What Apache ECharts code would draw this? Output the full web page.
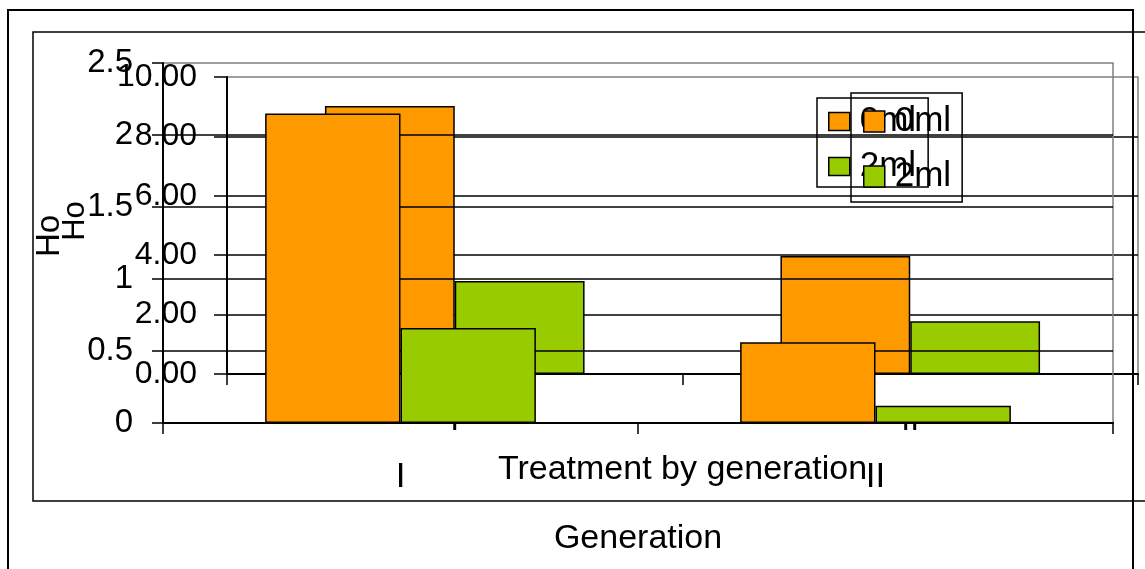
<!DOCTYPE html>
<html>
<head>
<meta charset="utf-8">
<script src="https://cdn.jsdelivr.net/npm/echarts@6/dist/echarts.min.js"></script>
<style>
html,body{margin:0;padding:0;background:#fff;}
#chart{width:1145px;height:569px;}
</style>
</head>
<body>
<div id="chart"></div>
<script>
// ---- data ----
const categories = ['I', 'II'];
const legendNames = ['0ml', '2ml'];
// chart drawn behind: "Treatment by generation" (0.00 - 10.00 scale)
const treat0ml = [9.02, 3.97];
const treat2ml = [3.13, 1.78];
// chart drawn in front: "Generation" (0 - 2.5 scale)
const gen0ml = [2.15, 0.56];
const gen2ml = [0.66, 0.12];

const ORANGE = '#FF9900';
const GREEN = '#99CC00';
const FONT = 'Liberation Sans, Arial, sans-serif';

const chart = echarts.init(document.getElementById('chart'));

function barSeries(name, data, color, gi, z) {
  return {
    type: 'bar', name: name, data: data,
    xAxisIndex: gi, yAxisIndex: gi, z: z,
    barGap: '0%', barCategoryGap: '43%',
    itemStyle: { color: color, borderColor: '#000', borderWidth: 1.5 },
    emphasis: { disabled: true }, animation: false
  };
}

const option = {
  animation: false,
  textStyle: { fontFamily: FONT, color: '#000' },
  graphic: [
    { type: 'rect', z: 0, shape: { x: 8, y: 10, width: 1125, height: 620 },
      style: { fill: 'none', stroke: '#000', lineWidth: 2 } },
    { type: 'rect', z: 0, shape: { x: 33, y: 32, width: 1150, height: 469 },
      style: { fill: 'none', stroke: '#000', lineWidth: 1.5 } }
  ],
  grid: [
    { left: 227, top: 77, right: 7, bottom: 195, show: true, z: 0,
      borderColor: '#808080', borderWidth: 1.5, backgroundColor: 'transparent' },
    { left: 163, top: 63, right: 32, bottom: 146, show: true, z: 3,
      borderColor: '#808080', borderWidth: 1.5, backgroundColor: 'transparent' }
  ],
  xAxis: [
    { type: 'category', gridIndex: 0, data: categories, z: 1,
      axisLine: { lineStyle: { color: '#000', width: 2 } },
      axisTick: { show: true, length: 11, lineStyle: { color: '#000', width: 1.5 } },
      axisLabel: { fontSize: 32, margin: 31, color: '#000', fontFamily: FONT },
      name: 'Treatment by generation', nameLocation: 'middle', nameGap: 79,
      nameTextStyle: { fontSize: 34, color: '#000', fontFamily: FONT } },
    { type: 'category', gridIndex: 1, data: categories, z: 4,
      axisLine: { lineStyle: { color: '#000', width: 2 } },
      axisTick: { show: true, length: 11, lineStyle: { color: '#000', width: 1.5 } },
      axisLabel: { fontSize: 35, margin: 37, color: '#000', fontFamily: FONT },
      name: 'Generation', nameLocation: 'middle', nameGap: 99,
      nameTextStyle: { fontSize: 34, color: '#000', fontFamily: FONT } }
  ],
  yAxis: [
    { type: 'value', gridIndex: 0, min: 0, max: 10, interval: 2, z: 1,
      axisLine: { show: true, lineStyle: { color: '#000', width: 2 } },
      axisTick: { show: true, length: 13, lineStyle: { color: '#000', width: 1.5 } },
      axisLabel: { fontSize: 32, margin: 30, color: '#000', fontFamily: FONT,
        formatter: v => v.toFixed(2) },
      splitLine: { show: true, showMinLine: false, showMaxLine: false,
        lineStyle: { color: '#000', width: 1.5 } },
      name: 'Ho', nameLocation: 'middle', nameGap: 136,
      nameTextStyle: { fontSize: 31, color: '#000', fontFamily: FONT, padding: [0, 0, 0, 9] } },
    { type: 'value', gridIndex: 1, min: 0, max: 2.5, interval: 0.5, z: 4,
      axisLine: { show: true, lineStyle: { color: '#000', width: 2 } },
      axisTick: { show: true, length: 11, lineStyle: { color: '#000', width: 1.5 } },
      axisLabel: { fontSize: 33, margin: 30, color: '#000', fontFamily: FONT },
      splitLine: { show: true, showMinLine: false, showMaxLine: false,
        lineStyle: { color: '#000', width: 1.5 } },
      name: 'Ho', nameLocation: 'middle', nameGap: 97,
      nameTextStyle: { fontSize: 33, color: '#000', fontFamily: FONT, padding: [0, 0, 0, 14] } }
  ],
  legend: [
    { data: legendNames, orient: 'vertical', left: 817, top: 98, z: 6,
      icon: 'rect', itemWidth: 21, itemHeight: 18, itemGap: 10,
      padding: [6, 12, 3, 11], borderColor: '#000', borderWidth: 1.5,
      itemStyle: { borderColor: '#000', borderWidth: 1.5 },
      textStyle: { fontSize: 35, color: '#000', fontFamily: FONT, padding: [0, 0, 0, 5] },
      selectedMode: false },
    { data: legendNames, orient: 'vertical', left: 851, top: 93, z: 7,
      icon: 'rect', itemWidth: 21, itemHeight: 21, itemGap: 20,
      padding: [11, 11, 8, 12], borderColor: '#000', borderWidth: 1.5,
      itemStyle: { borderColor: '#000', borderWidth: 1.5 },
      textStyle: { fontSize: 35, color: '#000', fontFamily: FONT, padding: [0, 0, 0, 5] },
      selectedMode: false }
  ],
  series: [
    barSeries('0ml', treat0ml, ORANGE, 0, 2),
    barSeries('2ml', treat2ml, GREEN, 0, 2),
    barSeries('0ml', gen0ml, ORANGE, 1, 5),
    barSeries('2ml', gen2ml, GREEN, 1, 5)
  ]
};
chart.setOption(option);
</script>
</body>
</html>
